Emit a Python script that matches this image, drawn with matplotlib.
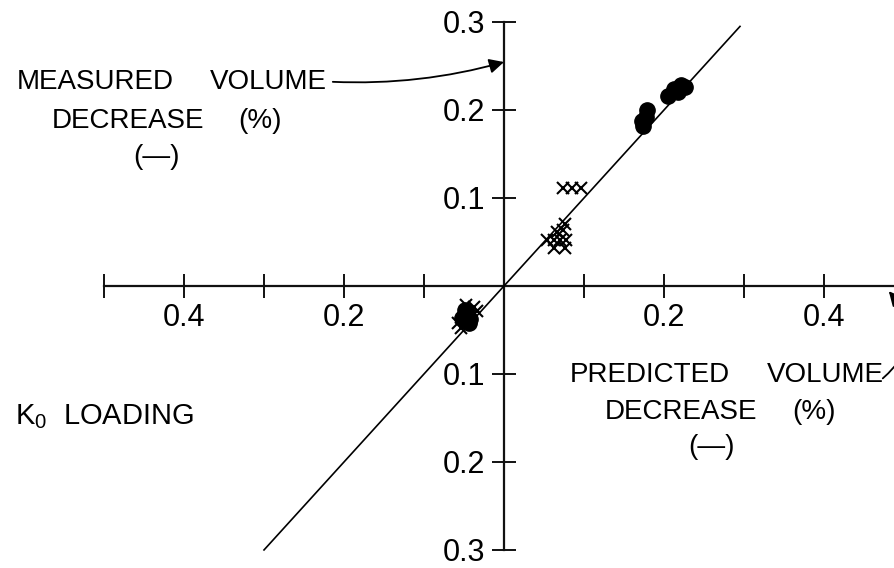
import matplotlib.pyplot as plt
import numpy as np

# Predicted vs measured volume decrease (%), K0 loading
pred_dots = [0.174, 0.177, 0.179, 0.173, 0.205, 0.212, 0.221, 0.218, 0.226,
             -0.052, -0.046, -0.042, -0.049, -0.044]
meas_dots = [0.182, 0.192, 0.200, 0.187, 0.216, 0.224, 0.228, 0.221, 0.226,
             -0.036, -0.031, -0.037, -0.027, -0.042]

pred_cross = [0.074, 0.085, 0.096,
              0.054, 0.062, 0.070, 0.078, 0.066, 0.074, 0.076, 0.062, 0.076,
              -0.058, -0.038, -0.054, -0.034, -0.047]
meas_cross = [0.111, 0.111, 0.111,
              0.052, 0.052, 0.052, 0.052, 0.061, 0.064, 0.071, 0.043, 0.043,
              -0.042, -0.024, -0.048, -0.028, -0.022]

# line of equality
fit_x = [-0.30, 0.295]
fit_y = [-0.30, 0.295]

x_ticks = [-0.5, -0.4, -0.3, -0.2, -0.1, 0.1, 0.2, 0.3, 0.4]
x_labels = ['', '0.4', '', '0.2', '', '', '0.2', '', '0.4']
y_ticks = [-0.3, -0.2, -0.1, 0.1, 0.2, 0.3]
y_labels = ['0.3', '0.2', '0.1', '0.1', '0.2', '0.3']

plt.rcParams['font.family'] = ['Liberation Sans', 'DejaVu Sans']
plt.rcParams['mathtext.fontset'] = 'custom'
plt.rcParams['mathtext.rm'] = 'Liberation Sans'
FS = 22   # tick labels
CS = 20   # captions

fig = plt.figure(figsize=(8.94, 5.68), dpi=100)
ax = fig.add_axes([0, 0, 1, 1])
ax.set_xlim(-0.63, 0.4875)
ax.set_ylim(-0.3205, 0.325)
ax.patch.set_visible(False)

# cross-shaped axes through the origin
for side in ['top', 'right']:
    ax.spines[side].set_visible(False)
ax.spines['left'].set_position(('data', 0))
ax.spines['bottom'].set_position(('data', 0))
ax.spines['left'].set_bounds(-0.3, 0.3)
ax.spines['bottom'].set_bounds(-0.5, 0.4875)
for side in ['left', 'bottom']:
    ax.spines[side].set_linewidth(1.6)
    ax.spines[side].set_color('#111111')

ax.set_xticks(x_ticks)
ax.set_xticklabels(x_labels)
ax.set_yticks(y_ticks)
ax.set_yticklabels(y_labels)
ax.tick_params(axis='both', direction='inout', length=17, width=1.4,
               color='#111111', labelsize=FS)
ax.tick_params(axis='x', pad=4)
ax.tick_params(axis='y', pad=5)

ax.plot(fit_x, fit_y, color='black', lw=1.2, zorder=3)
ax.plot(pred_dots, meas_dots, 'o', color='black', ms=11, mec='black', zorder=4)
ax.plot(pred_cross, meas_cross, 'x', color='black', ms=8, mew=1.5, zorder=4)

# axis captions
ax.text(-0.609, 0.232, 'MEASURED', fontsize=CS, va='center', ha='left')
ax.text(-0.3675, 0.232, 'VOLUME', fontsize=CS, va='center', ha='left')
ax.text(-0.565, 0.1875, 'DECREASE', fontsize=CS, va='center', ha='left')
ax.text(-0.3325, 0.1875, '(%)', fontsize=CS, va='center', ha='left')
ax.text(-0.464, 0.1466, '(—)', fontsize=CS, va='center', ha='left')
ax.annotate('', xy=(0.0, 0.2545), xytext=(-0.214, 0.232),
            arrowprops=dict(arrowstyle='-|>', color='black', lw=1.3,
                            mutation_scale=22, shrinkA=0, shrinkB=0,
                            connectionstyle='arc3,rad=0.08'))

ax.text(0.0825, -0.101, 'PREDICTED', fontsize=CS, va='center', ha='left')
ax.text(0.329, -0.101, 'VOLUME', fontsize=CS, va='center', ha='left')
ax.text(0.126, -0.143, 'DECREASE', fontsize=CS, va='center', ha='left')
ax.text(0.36, -0.143, '(%)', fontsize=CS, va='center', ha='left')
ax.text(0.23, -0.183, '(—)', fontsize=CS, va='center', ha='left')
ax.annotate('', xy=(0.481, -0.006), xytext=(0.4735, -0.105),
            arrowprops=dict(arrowstyle='-|>', color='black', lw=1.3,
                            mutation_scale=22, shrinkA=0, shrinkB=0,
                            connectionstyle='arc3,rad=0.5'))

ax.text(-0.611, -0.149, r'K$_\mathregular{0}$  LOADING', fontsize=21,
        va='center', ha='left')

fig.savefig('out.png', dpi=100)
